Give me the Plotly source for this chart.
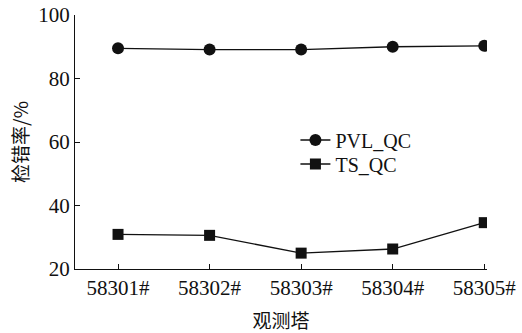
import plotly.graph_objects as go

towers = ["58301#", "58302#", "58303#", "58304#", "58305#"]
pvl_qc = [89.5, 89.1, 89.1, 90.0, 90.3]
ts_qc = [30.9, 30.6, 25.0, 26.3, 34.6]
y_ticks = [20, 40, 60, 80, 100]

serif = "Liberation Serif"
cjk = "Noto Sans CJK SC"

fig = go.Figure()
fig.add_trace(go.Scatter(x=list(range(len(towers))), y=pvl_qc, name="PVL_QC", mode="lines+markers",
                         line=dict(color="#111", width=1.3),
                         marker=dict(symbol="circle", size=12, color="#111"), legend="legend"))
fig.add_trace(go.Scatter(x=list(range(len(towers))), y=ts_qc, name="TS_QC", mode="lines+markers",
                         line=dict(color="#111", width=1.3),
                         marker=dict(symbol="square", size=11, color="#111"), legend="legend2"))

leg = dict(xanchor="left", yanchor="middle", font=dict(family=serif, size=20, color="#111"),
           bgcolor="rgba(0,0,0,0)", itemwidth=30, borderwidth=0)

fig.update_layout(
    template="none",
    width=522, height=333,
    font=dict(family=serif, size=20, color="#111"),
    margin=dict(l=75, r=35, t=15, b=64),
    paper_bgcolor="white", plot_bgcolor="white",
    showlegend=True,
    legend=dict(leg, x=0.535, y=(140 - 269) / -254),
    legend2=dict(leg, x=0.535, y=(164 - 269) / -254),
    xaxis=dict(range=[-0.47, 4.03], tickmode="array", tickvals=list(range(len(towers))),
               ticktext=towers, ticks="inside", ticklen=5, tickcolor="#111", automargin=False,
               showline=True, linecolor="#111", linewidth=1.3, showgrid=False, zeroline=False,
               tickfont=dict(family=serif, size=21, color="#111"),
               title=dict(text="观测塔", font=dict(family=cjk, size=19, color="#111"), standoff=18)),
    yaxis=dict(range=[20, 100], tickmode="array", tickvals=y_ticks, automargin=False,
               ticks="inside", ticklen=5, tickcolor="#111",
               showline=True, linecolor="#111", linewidth=1.3, showgrid=False, zeroline=False,
               tickfont=dict(family=serif, size=21, color="#111"),
               title=dict(text="检错率/%", font=dict(family=cjk, size=19, color="#111"), standoff=4)),
)

fig.write_html("out.html")
